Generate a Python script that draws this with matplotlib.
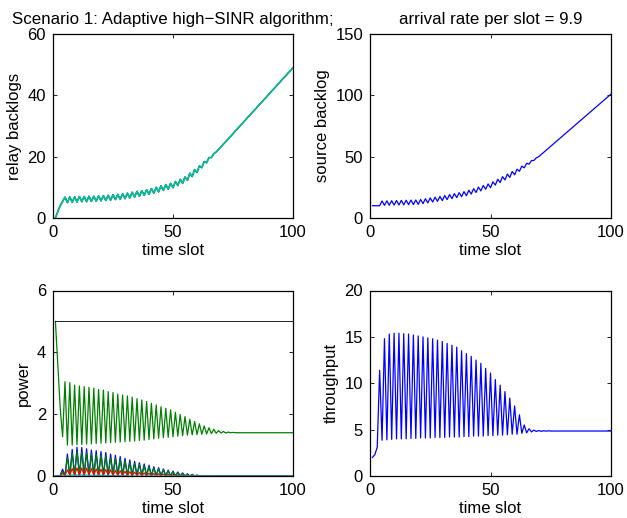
import numpy as np
import matplotlib
matplotlib.use("Agg")
import matplotlib.pyplot as plt

plt.rcParams['font.family'] = ['Liberation Sans', 'DejaVu Sans']
plt.rcParams['font.size'] = 12

# time slots 1..100
time_slot = np.arange(1, 101)

relay_backlog = [
    0.0, 2.1, 4.0, 5.4, 6.8, 5.0, 6.9, 5.1, 6.9, 5.2,
    7.0, 5.3, 7.0, 5.3, 7.1, 5.4, 7.1, 5.5, 7.2, 5.6,
    7.3, 5.7, 7.4, 5.8, 7.6, 6.0, 7.7, 6.1, 7.9, 6.3,
    8.1, 6.5, 8.4, 6.8, 8.7, 7.1, 8.9, 7.4, 9.2, 7.7,
    9.6, 8.1, 10.0, 8.5, 10.5, 9.0, 10.9, 9.4, 11.3, 9.9,
    11.9, 10.6, 12.6, 11.3, 13.4, 12.3, 14.6, 13.5, 15.8, 14.8,
    17.0, 16.4, 18.4, 18.0, 19.7, 19.7, 21.0, 21.5, 22.4, 23.2,
    24.1, 24.9, 25.8, 26.6, 27.5, 28.4, 29.2, 30.1, 30.9, 31.8,
    32.7, 33.5, 34.4, 35.2, 36.1, 37.0, 37.8, 38.7, 39.5, 40.4,
    41.3, 42.1, 43.0, 43.8, 44.7, 45.6, 46.4, 47.3, 48.1, 49.0,
]

source_backlog = [
    10.0, 10.0, 10.0, 10.0, 13.9, 10.3, 14.0, 10.4, 14.1, 10.5,
    14.3, 10.6, 14.4, 10.7, 14.5, 10.9, 14.6, 11.0, 14.7, 11.1,
    15.1, 11.7, 15.7, 12.3, 16.4, 13.0, 17.0, 13.6, 17.6, 14.2,
    18.3, 15.0, 19.1, 15.8, 19.9, 16.6, 20.7, 17.4, 21.5, 18.2,
    22.6, 19.5, 23.9, 20.8, 25.2, 22.1, 26.5, 23.4, 27.8, 24.7,
    29.5, 26.8, 31.6, 28.9, 33.7, 31.0, 35.8, 33.1, 37.9, 35.2,
    39.8, 38.1, 42.3, 40.9, 44.6, 43.9, 46.8, 46.9, 49.0, 50.0,
    51.7, 53.4, 55.1, 56.8, 58.5, 60.2, 61.9, 63.6, 65.3, 67.0,
    68.7, 70.4, 72.1, 73.8, 75.5, 77.2, 78.9, 80.6, 82.3, 84.0,
    85.7, 87.4, 89.1, 90.8, 92.5, 94.2, 95.9, 97.6, 99.3, 101.0,
]

power_blue = [
    0.0, 0.0, 0.02, 0.22, 0.01, 0.71, 0.01, 0.86, 0.01, 0.93,
    0.01, 0.92, 0.01, 0.88, 0.01, 0.84, 0.01, 0.82, 0.01, 0.79,
    0.01, 0.76, 0.01, 0.71, 0.01, 0.67, 0.01, 0.63, 0.01, 0.57,
    0.01, 0.52, 0.01, 0.47, 0.01, 0.43, 0.01, 0.39, 0.01, 0.35,
    0.01, 0.30, 0.01, 0.27, 0.01, 0.23, 0.01, 0.19, 0.0, 0.16,
    0.0, 0.13, 0.0, 0.10, 0.0, 0.07, 0.0, 0.05, 0.0, 0.03,
    0.0, 0.01,
] + [0.0] * 38

power_green_small = [
    0.0, 0.0, 0.01, 0.15, 0.01, 0.60, 0.01, 0.73, 0.01, 0.79,
    0.01, 0.78, 0.01, 0.75, 0.01, 0.71, 0.01, 0.70, 0.01, 0.67,
    0.01, 0.65, 0.01, 0.60, 0.01, 0.57, 0.01, 0.54, 0.01, 0.48,
    0.01, 0.44, 0.01, 0.40, 0.01, 0.37, 0.01, 0.33, 0.01, 0.30,
    0.0, 0.26, 0.0, 0.23, 0.0, 0.20, 0.0, 0.16, 0.0, 0.14,
    0.0, 0.11, 0.0, 0.08, 0.0, 0.06, 0.0, 0.04, 0.0, 0.02,
    0.0, 0.01,
] + [0.0] * 38

power_red = [
    0.0, 0.0, 0.01, 0.08, 0.03, 0.20, 0.03, 0.24, 0.03, 0.26,
    0.03, 0.26, 0.03, 0.25, 0.03, 0.24, 0.03, 0.23, 0.03, 0.22,
    0.03, 0.21, 0.03, 0.20, 0.02, 0.18, 0.02, 0.17, 0.02, 0.15,
    0.02, 0.14, 0.02, 0.12, 0.02, 0.11, 0.01, 0.10, 0.01, 0.09,
    0.01, 0.08, 0.01, 0.07, 0.01, 0.06, 0.0, 0.05, 0.0, 0.04,
    0.0, 0.03, 0.0, 0.02, 0.0, 0.01,
] + [0.0] * 44

power_cyan = [
    0.0, 0.0, 0.0, 0.01, 0.0, 0.03, 0.0, 0.04, 0.0, 0.04,
    0.0, 0.04, 0.0, 0.04, 0.0, 0.03, 0.0, 0.03, 0.0, 0.03,
    0.0, 0.02, 0.0, 0.02, 0.0, 0.02, 0.0, 0.01, 0.0, 0.01,
] + [0.0] * 70

power_green = [
    5.0, 3.6, 2.2, 1.27, 3.05, 1.00, 3.02, 1.00, 2.94, 1.01,
    2.91, 1.02, 2.89, 1.03, 2.87, 1.04, 2.84, 1.05, 2.80, 1.06,
    2.78, 1.07, 2.73, 1.08, 2.70, 1.09, 2.65, 1.10, 2.62, 1.11,
    2.59, 1.12, 2.55, 1.13, 2.50, 1.15, 2.46, 1.16, 2.41, 1.18,
    2.35, 1.20, 2.30, 1.22, 2.24, 1.24, 2.19, 1.25, 2.14, 1.27,
    2.06, 1.29, 1.99, 1.30, 1.92, 1.32, 1.84, 1.33, 1.76, 1.34,
    1.69, 1.35, 1.62, 1.36, 1.56, 1.37, 1.51, 1.38, 1.47, 1.39,
    1.44, 1.39, 1.42, 1.40, 1.41,
] + [1.40] * 25

power_max = [5.0] * 100

throughput = [
    2.0, 2.3, 3.1, 11.4, 3.85, 14.8, 3.9, 15.3, 3.95, 15.4,
    4.0, 15.4, 4.0, 15.35, 4.0, 15.3, 4.05, 15.2, 4.05, 15.1,
    4.1, 15.0, 4.1, 14.9, 4.1, 14.8, 4.15, 14.65, 4.15, 14.5,
    4.15, 14.3, 4.2, 14.1, 4.2, 13.9, 4.2, 13.5, 4.25, 13.2,
    4.25, 12.9, 4.3, 12.5, 4.3, 12.15, 4.3, 11.6, 4.35, 11.1,
    4.35, 10.4, 4.4, 9.8, 4.4, 9.1, 4.45, 8.4, 4.5, 7.55,
    4.5, 6.6, 4.6, 5.5, 4.65, 5.1, 4.75, 4.95, 4.8, 4.9,
    4.82, 4.88, 4.84, 4.87, 4.85,
] + [4.85] * 25

# matlab default colours
mb = (0, 0, 1)
mg = (0, 0.5, 0)
mr = (1, 0, 0)
mc = (0, 0.75, 0.75)

fig = plt.figure(figsize=(6.27, 5.18), dpi=100)

W, H = 627, 518
def box(x0, y0, x1, y1):
    return [x0 / W, 1 - y1 / H, (x1 - x0) / W, (y1 - y0) / H]

ax1 = fig.add_axes(box(53, 34, 293, 218))
ax2 = fig.add_axes(box(370, 34, 611, 218))
ax3 = fig.add_axes(box(53, 290.5, 293, 476))
ax4 = fig.add_axes(box(370, 290.5, 611, 476))

lw = 0.9

ax1.plot(time_slot, relay_backlog, color=mg, lw=1.2)
ax1.plot(time_slot, relay_backlog, color=mc, lw=0.9)
ax1.set_ylim(0, 60)
ax1.set_yticks([0, 20, 40, 60])
ax1.set_ylabel("relay backlogs")
ax1.set_title("Scenario 1: Adaptive high\u2212SINR algorithm;", pad=7, fontsize=12.2)

ax2.plot(time_slot, source_backlog, color=mb, lw=lw)
ax2.set_ylim(0, 150)
ax2.set_yticks([0, 50, 100, 150])
ax2.set_ylabel("source backlog")
ax2.set_title("arrival rate per slot = 9.9", pad=7, fontsize=12.2)

ax3.plot(time_slot, power_blue, color=mb, lw=lw)
ax3.plot(time_slot, power_green_small, color=mg, lw=lw)
ax3.plot(time_slot, power_red, color=mr, lw=lw)
ax3.plot(time_slot, power_cyan, color=mc, lw=lw)
ax3.plot(time_slot, power_green, color=mg, lw=lw)
ax3.plot(time_slot, power_max, color="k", lw=0.6)
ax3.set_ylim(0, 6)
ax3.set_yticks([0, 2, 4, 6])
ax3.set_ylabel("power")

ax4.plot(time_slot, throughput, color=mb, lw=lw)
ax4.set_ylim(0, 20)
ax4.set_yticks([0, 5, 10, 15, 20])
ax4.set_ylabel("throughput")

for ax in (ax1, ax2, ax3, ax4):
    ax.set_xlim(0, 100)
    ax.set_xticks([0, 50, 100])
    ax.set_xlabel("time slot", labelpad=2)
    ax.tick_params(direction="in", top=True, right=True, length=3,
                   width=0.6, pad=5, labelsize=12)
    for s in ax.spines.values():
        s.set_linewidth(0.9)

fig.savefig("out.png", dpi=100)
